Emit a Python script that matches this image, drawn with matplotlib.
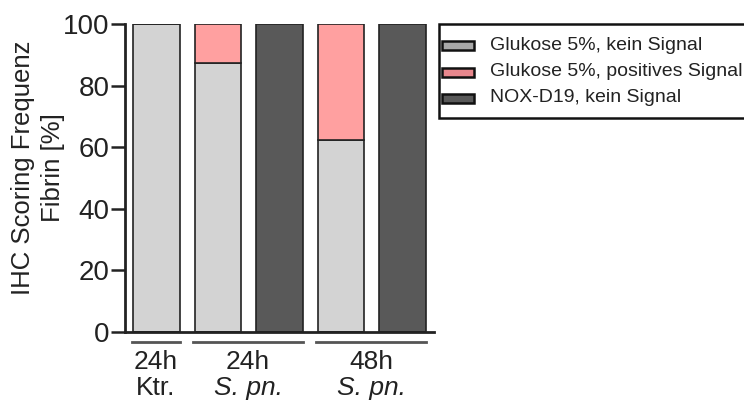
import matplotlib
matplotlib.use("Agg")
import matplotlib.pyplot as plt
from matplotlib.patches import Rectangle
from matplotlib.transforms import blended_transform_factory

plt.rcParams['font.family'] = ['Liberation Sans', 'DejaVu Sans']

# Stacked values per bar (percent)
bar_kein = [100, 87.5, 0, 62.5, 0]        # Glukose 5%, kein Signal
bar_pos = [0, 12.5, 0, 37.5, 0]           # Glukose 5%, positives Signal
bar_nox = [0, 0, 100, 0, 100]             # NOX-D19, kein Signal
legend_labels = ["Glukose 5%, kein Signal", "Glukose 5%, positives Signal", "NOX-D19, kein Signal"]
group_top = ["24h", "24h", "48h"]
group_bottom = ["Ktr.", "S. pn.", "S. pn."]
group_members = [[0], [1, 2], [3, 4]]
yticks = [0, 20, 40, 60, 80, 100]
y_label = "IHC Scoring Frequenz\nFibrin [%]"

c_kein, c_pos, c_nox = "#d3d3d3", "#ffa0a0", "#595959"
leg_colors = ["#a8a8a8", "#e8878d", "#595959"]

W, H = 744, 403
fig = plt.figure(figsize=(W/100, H/100), dpi=100)
ax = fig.add_axes([125/W, 1-332/H, (434-125)/W, (332-24)/H])

x = list(range(len(bar_kein)))
w = 0.76
ax.bar(x, bar_kein, w, color=c_kein, edgecolor="#222222", linewidth=1.2)
ax.bar(x, bar_pos, w, bottom=bar_kein, color=c_pos, edgecolor="#222222", linewidth=1.2)
ax.bar(x, bar_nox, w, color=c_nox, edgecolor="#222222", linewidth=1.2)

ax.set_xlim(-0.51, 4.51)
ax.set_ylim(0, 100)
ax.set_yticks(yticks)
ax.tick_params(axis='y', labelsize=20, length=10, width=1.8, direction='out', pad=1,
               colors="#222222")
ax.set_xticks([])
for s in ["top", "right"]:
    ax.spines[s].set_visible(False)
for s in ["left", "bottom"]:
    ax.spines[s].set_linewidth(2)
    ax.spines[s].set_color("#222222")

# Axis title placed in figure pixel coordinates
def fx(px):
    return px / W

def fy(py):
    return 1 - py / H

fig.text(fx(38), fy(168), y_label, rotation=90, ha='center', va='center',
         fontsize=18.5, color="#222222", linespacing=1.3, multialignment='center')

trans = blended_transform_factory(ax.transData, ax.transAxes)
for top, bot, mem in zip(group_top, group_bottom, group_members):
    x0, x1 = mem[0] - w/2 - 0.02, mem[-1] + w/2
    ax.plot([x0, x1], [-0.033, -0.033], transform=trans, color="#555555", lw=2, clip_on=False)
    xc = (x0 + x1) / 2
    ax.text(xc, -0.058, top, transform=trans, ha='center', va='top', fontsize=19, color="#222222")
    style = 'italic' if bot.startswith('S.') else 'normal'
    ax.text(xc, -0.143, bot, transform=trans, ha='center', va='top', fontsize=19,
            style=style, color="#222222")

# Legend box
frame = Rectangle((fx(439), fy(118)), fx(790) - fx(439), fy(24) - fy(118),
                  transform=fig.transFigure, facecolor="white", edgecolor="#111111",
                  linewidth=1.8, clip_on=False)
fig.patches.append(frame)
row_y = [45, 72, 98]
for yc, col, lab in zip(row_y, leg_colors, legend_labels):
    fig.patches.append(Rectangle((fx(442), fy(yc + 4.5)), fx(474) - fx(442), fy(yc - 4.5) - fy(yc + 4.5),
                                 transform=fig.transFigure, facecolor=col, edgecolor="#111111",
                                 linewidth=1.8))
    fig.text(fx(490), fy(yc), lab, fontsize=14, va='center', ha='left', color="#222222")

fig.savefig("out.png", dpi=100)
